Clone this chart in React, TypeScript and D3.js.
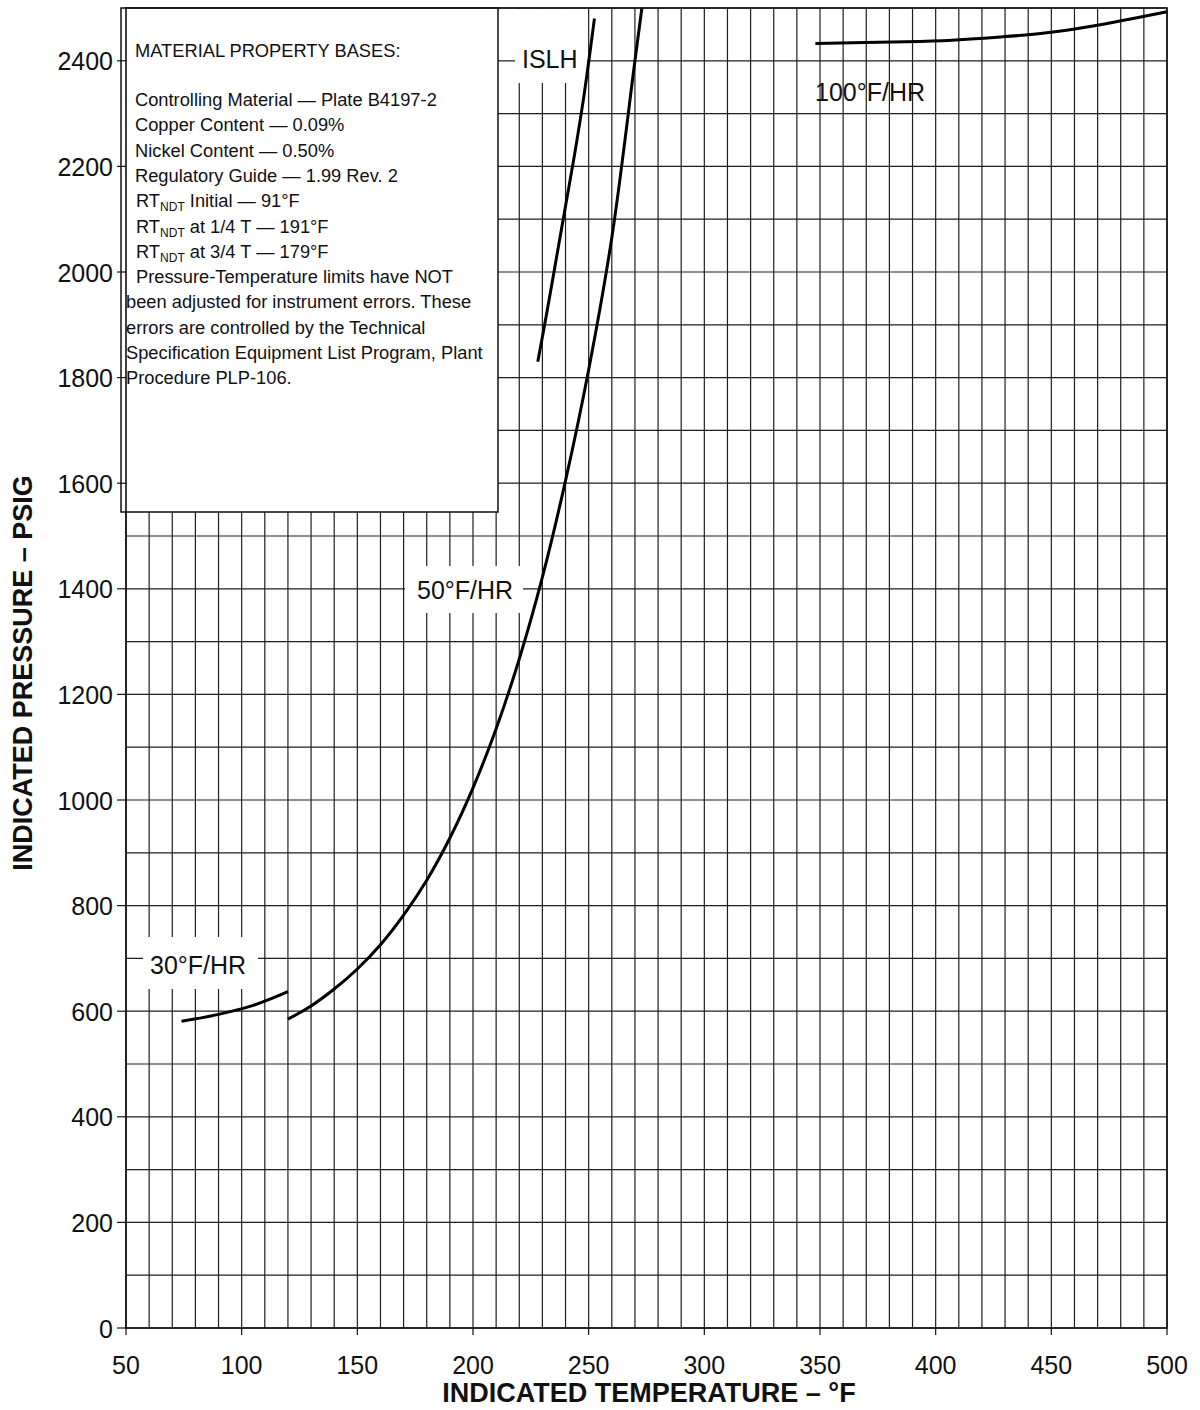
import * as d3 from "d3";

// axis ticks
const tempTicks = [50, 100, 150, 200, 250, 300, 350, 400, 450, 500];
const pressureTicks = [0, 200, 400, 600, 800, 1000, 1200, 1400, 1600, 1800, 2000, 2200, 2400];

// curves (temperature °F, pressure psig)
const rate30Temp = [74, 90, 105, 120];
const rate30Press = [581, 594, 611, 637];

const rate50Temp = [120, 130, 140, 150, 160, 170, 180, 190, 200, 210, 220, 230, 240, 250, 260, 270, 273];
const rate50Press = [585, 610, 642, 680, 726, 782, 848, 928, 1023, 1135, 1267, 1422, 1605, 1815, 2065, 2400, 2500];

const islhTemp = [228, 232, 236, 240, 244, 248, 252.5];
const islhPress = [1830, 1925, 2025, 2125, 2225, 2335, 2480];

const rate100Temp = [348, 387, 407, 428, 448, 468, 500];
const rate100Press = [2433, 2436, 2439, 2445, 2453, 2466, 2493];

const noteLines = [
  "Controlling Material \u2014 Plate B4197-2",
  "Copper Content \u2014 0.09%",
  "Nickel Content \u2014 0.50%",
  "Regulatory Guide \u2014 1.99 Rev. 2",
];
const rtLines = [" Initial \u2014 91\u00b0F", " at 1/4 T \u2014 191\u00b0F", " at 3/4 T \u2014 179\u00b0F"];
const tailLines = [
  "been adjusted for instrument errors.  These",
  "errors are controlled by the Technical",
  "Specification Equipment List Program, Plant",
  "Procedure PLP-106.",
];

const width = 1200, height = 1410;
const left = 126, right = 1167, top = 8, bottom = 1328;
const font = "'Liberation Sans', Arial, Helvetica, sans-serif";

function App() {
  const x = d3.scaleLinear().domain([50, 500]).range([left, right]);
  const y = d3.scaleLinear().domain([0, 2500]).range([bottom, top]);

  const line = d3.line<[number, number]>()
    .x(d => x(d[0]))
    .y(d => y(d[1]))
    .curve(d3.curveCatmullRom.alpha(0.5));

  const toPts = (ts: number[], ps: number[]) => ts.map((t, i) => [t, ps[i]] as [number, number]);

  const curves = [
    toPts(rate30Temp, rate30Press),
    toPts(rate50Temp, rate50Press),
    toPts(islhTemp, islhPress),
    toPts(rate100Temp, rate100Press),
  ];

  const gridT = d3.range(50, 501, 10);
  const gridP = d3.range(0, 2501, 100);

  const lineH = 25.3;
  const firstLine = 106;

  return (
    <svg width={width} height={height} style={{position: "absolute", left: 0, top: 0, background: "#fff"}}
         fontFamily={font}>
      {/* grid */}
      <g stroke="#1e1e1e" strokeWidth={1.2}>
        {gridT.map(t => <line key={"v" + t} x1={x(t)} x2={x(t)} y1={top} y2={bottom} />)}
        {gridP.map(p => <line key={"h" + p} x1={left} x2={right} y1={y(p)} y2={y(p)} />)}
      </g>

      {/* note box */}
      <rect x={121} y={top} width={377} height={504} fill="#fff" stroke="#111" strokeWidth={1.5} />
      <g fontSize={18.3} fill="#111">
        <text x={135} y={57}>MATERIAL PROPERTY BASES:</text>
        {noteLines.map((s, i) => <text key={s} x={135} y={firstLine + i * lineH}>{s}</text>)}
        {rtLines.map((s, i) => (
          <text key={s} x={136} y={firstLine + (i + 4) * lineH}>
            RT<tspan fontSize={12} dy={4}>NDT</tspan><tspan dy={-4}>{s}</tspan>
          </text>
        ))}
        <text x={136} y={firstLine + 7 * lineH}>Pressure-Temperature limits have NOT</text>
        {tailLines.map((s, i) => <text key={s} x={126} y={firstLine + (i + 8) * lineH}>{s}</text>)}
      </g>

      {/* label backgrounds */}
      <g fill="#fff">
        <rect x={143} y={937} width={115} height={52} />
        <rect x={405} y={566} width={118} height={47} />
        <rect x={515} y={top + 1} width={72} height={74} />
      </g>

      {/* curves */}
      <g fill="none" stroke="#000" strokeWidth={3} strokeLinecap="butt">
        {curves.map((c, i) => <path key={i} d={line(c) ?? ""} />)}
      </g>

      {/* frame */}
      <rect x={left} y={top} width={right - left} height={bottom - top} fill="none" stroke="#111" strokeWidth={1.6} />

      {/* curve labels */}
      <g fontSize={25} fill="#111">
        <text x={150} y={974}>30°F/HR</text>
        <text x={417} y={599}>50°F/HR</text>
        <text x={522} y={68}>ISLH</text>
        <text x={815} y={101}>100°F/HR</text>
      </g>

      {/* ticks */}
      <g stroke="#111" strokeWidth={1.2}>
        {pressureTicks.map(p => <line key={p} x1={left - 9} x2={left} y1={y(p)} y2={y(p)} />)}
        {tempTicks.map(t => <line key={t} x1={x(t)} x2={x(t)} y1={bottom} y2={bottom + 7} />)}
      </g>
      <g fontSize={25} fill="#111" textAnchor="end">
        {pressureTicks.map(p => <text key={p} x={113} y={y(p)} dy="0.38em">{p}</text>)}
      </g>
      <g fontSize={25} fill="#111" textAnchor="middle">
        {tempTicks.map(t => <text key={t} x={x(t)} y={1374}>{t}</text>)}
      </g>

      {/* axis titles */}
      <text x={649} y={1402} textAnchor="middle" fontSize={27} fontWeight="bold" fill="#111">
        INDICATED TEMPERATURE – °F
      </text>
      <text transform="translate(32,673) rotate(-90)" textAnchor="middle" fontSize={27} fontWeight="bold" fill="#111">
        INDICATED PRESSURE – PSIG
      </text>
    </svg>
  );
}

export default App;
